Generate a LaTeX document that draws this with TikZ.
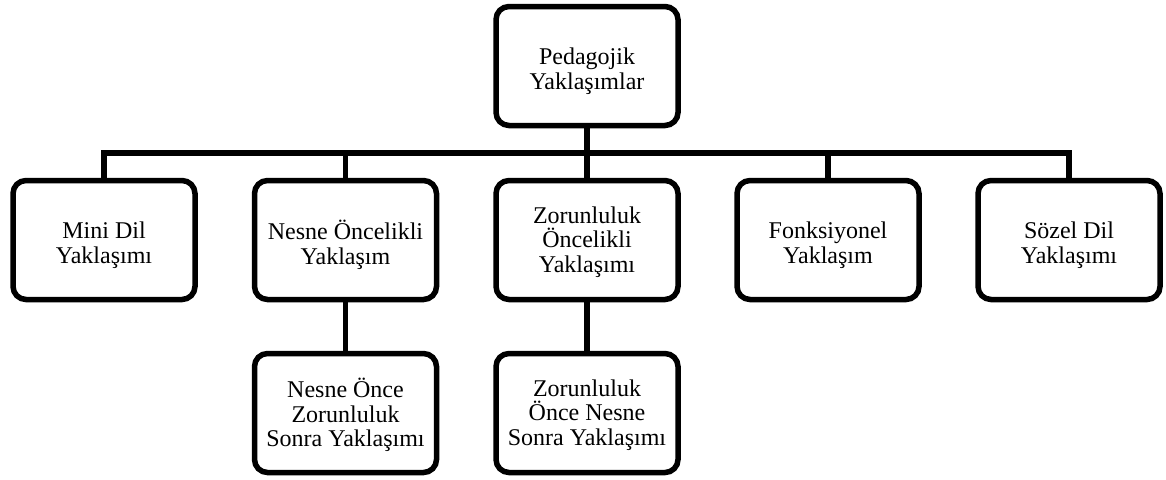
\documentclass[tikz,border=0pt]{standalone}
\usepackage{fontspec}
\setmainfont{Liberation Serif}
\begin{document}
\begin{tikzpicture}[x=1pt,y=-1pt,
  box/.style={draw=black, line width=5.5pt, rounded corners=13pt, fill=white,
    minimum width=182pt, minimum height=119pt, inner sep=0pt},
  txt/.style={inner sep=0pt, align=center,
    font=\fontsize{24pt}{24.5pt}\selectfont},
  two/.style={yshift=-5pt},
  three/.style={yshift=-2pt},
  link/.style={draw=black, line width=5.5pt}]
\useasboundingbox (0,0) rectangle (1166,479);
% frames
\node[box] (top) at (587,66) {};
\node[box] (b1) at (104,240) {};
\node[box] (b2) at (345.5,240) {};
\node[box] (b3) at (587,240) {};
\node[box] (b4) at (828,240) {};
\node[box] (b5) at (1069,240) {};
\node[box] (c2) at (345.5,413) {};
\node[box] (c3) at (587,413) {};
% labels
\node[txt,two] (ttop) at (top.center) {Pedagojik\\Yaklaşımlar};
\node[txt,two] (tb1) at (b1.center) {Mini Dil\\Yaklaşımı};
\node[txt,two] (tb2) at (b2.center) {Nesne Öncelikli\\Yaklaşım};
\node[txt,three] (tb3) at (b3.center) {Zorunluluk\\Öncelikli\\Yaklaşımı};
\node[txt,two] (tb4) at (b4.center) {Fonksiyonel\\Yaklaşım};
\node[txt,two] (tb5) at (b5.center) {Sözel Dil\\Yaklaşımı};
\node[txt,three] (tc2) at (c2.center) {Nesne Önce\\Zorunluluk\\Sonra Yaklaşımı};
\node[txt,three] (tc3) at (c3.center) {Zorunluluk\\Önce Nesne\\Sonra Yaklaşımı};
% bus line
\coordinate (bus) at (587,153);
\draw[link] (top.south) -- (bus);
\draw[link] (b1.north) -- (b1.north |- bus) -- (b5.north |- bus) -- (b5.north);
\draw[link] (b2.north) -- (b2.north |- bus);
\draw[link] (b3.north) -- (b3.north |- bus);
\draw[link] (b4.north) -- (b4.north |- bus);
% lower links
\draw[link] (b2.south) -- (c2.north);
\draw[link] (b3.south) -- (c3.north);
\end{tikzpicture}
\end{document}
